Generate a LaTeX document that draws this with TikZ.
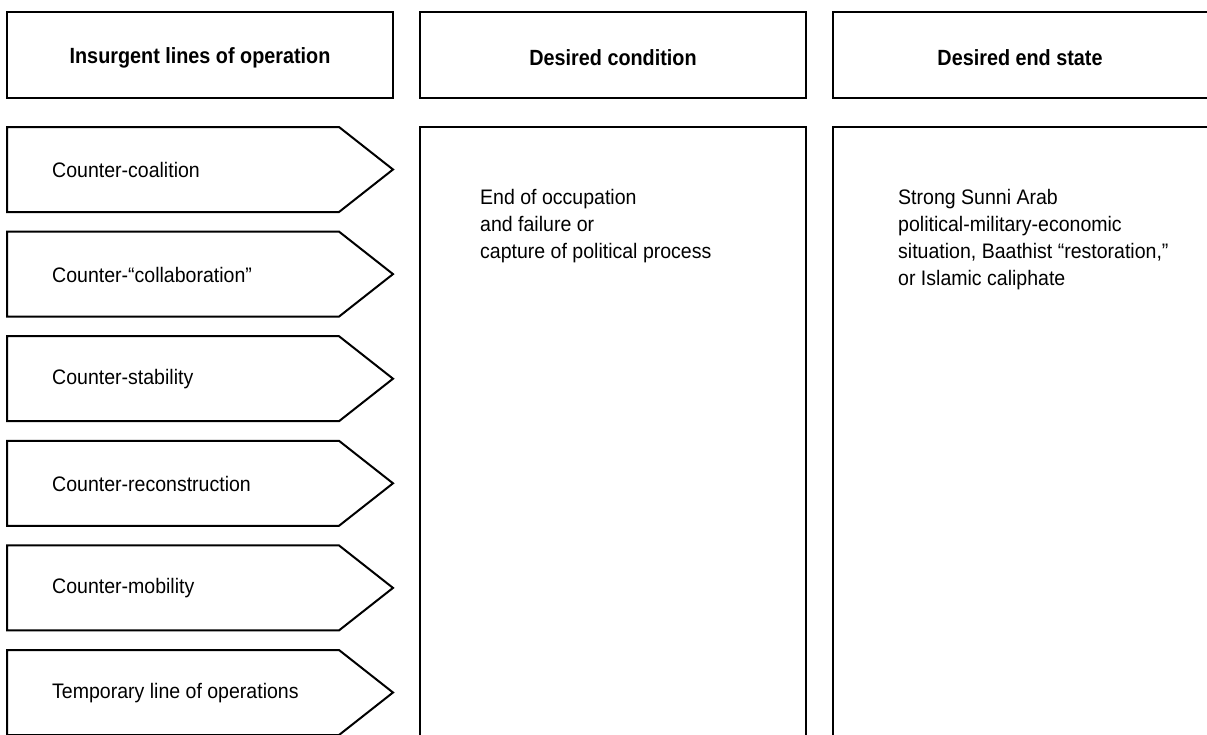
\documentclass[tikz,border=0pt]{standalone}
\usepackage{fontspec}
\setmainfont{Liberation Sans}[FakeStretch=0.93]
\newfontfamily\hdfont{Liberation Sans}[FakeStretch=0.9]
\begin{document}
\begin{tikzpicture}[x=1pt,y=-1pt,
  boxline/.style={draw=black,line width=2pt},
  headtext/.style={font=\hdfont\fontsize{22}{26}\selectfont\bfseries},
  lbl/.style={anchor=west,inner sep=0pt,font=\fontsize{21}{27}\selectfont},
  bodytext/.style={anchor=north west,align=left,inner sep=0pt,font=\fontsize{21}{27}\selectfont}]
\useasboundingbox (0,0) rectangle (1207,734);
\clip (0,0) rectangle (1207,734);
\fill[white] (0,0) rectangle (1207,734);
% headers
\draw[boxline] (7,12) rectangle (393,98);
\node[headtext] (h1) at (200,58) {Insurgent lines of operation};
\draw[boxline] (420,12) rectangle (806,98);
\node[headtext] (h2) at (613,58) {Desired condition};
\draw[boxline] (833,12) rectangle (1230,98);
\node[headtext] (h3) at (1020,58) {Desired end state};
% body boxes
\draw[boxline] (420,760) -- (420,127) -- (806,127) -- (806,760);
\node[bodytext] (c) at (480,189) {End of occupation\\and failure or\\capture of political process};
\draw[boxline] (833,760) -- (833,127) -- (1230,127);
\node[bodytext] (e) at (898,189) {Strong Sunni Arab\\political-military-economic\\situation, Baathist “restoration,”\\or Islamic caliphate};
% arrows
\foreach \t/\txt [count=\i] in {127/Counter-coalition,231.6/Counter-“collaboration”,336.2/Counter-stability,440.8/Counter-reconstruction,545.4/Counter-mobility,650/Temporary line of operations}{
  \draw[boxline,line join=miter] (7,\t) -- (339,\t) -- (393,\t+42.5) -- (339,\t+85) -- (7,\t+85) -- cycle;
  \node[lbl] (a\i) at (52,\t+43) {\txt};
}
\end{tikzpicture}
\end{document}
